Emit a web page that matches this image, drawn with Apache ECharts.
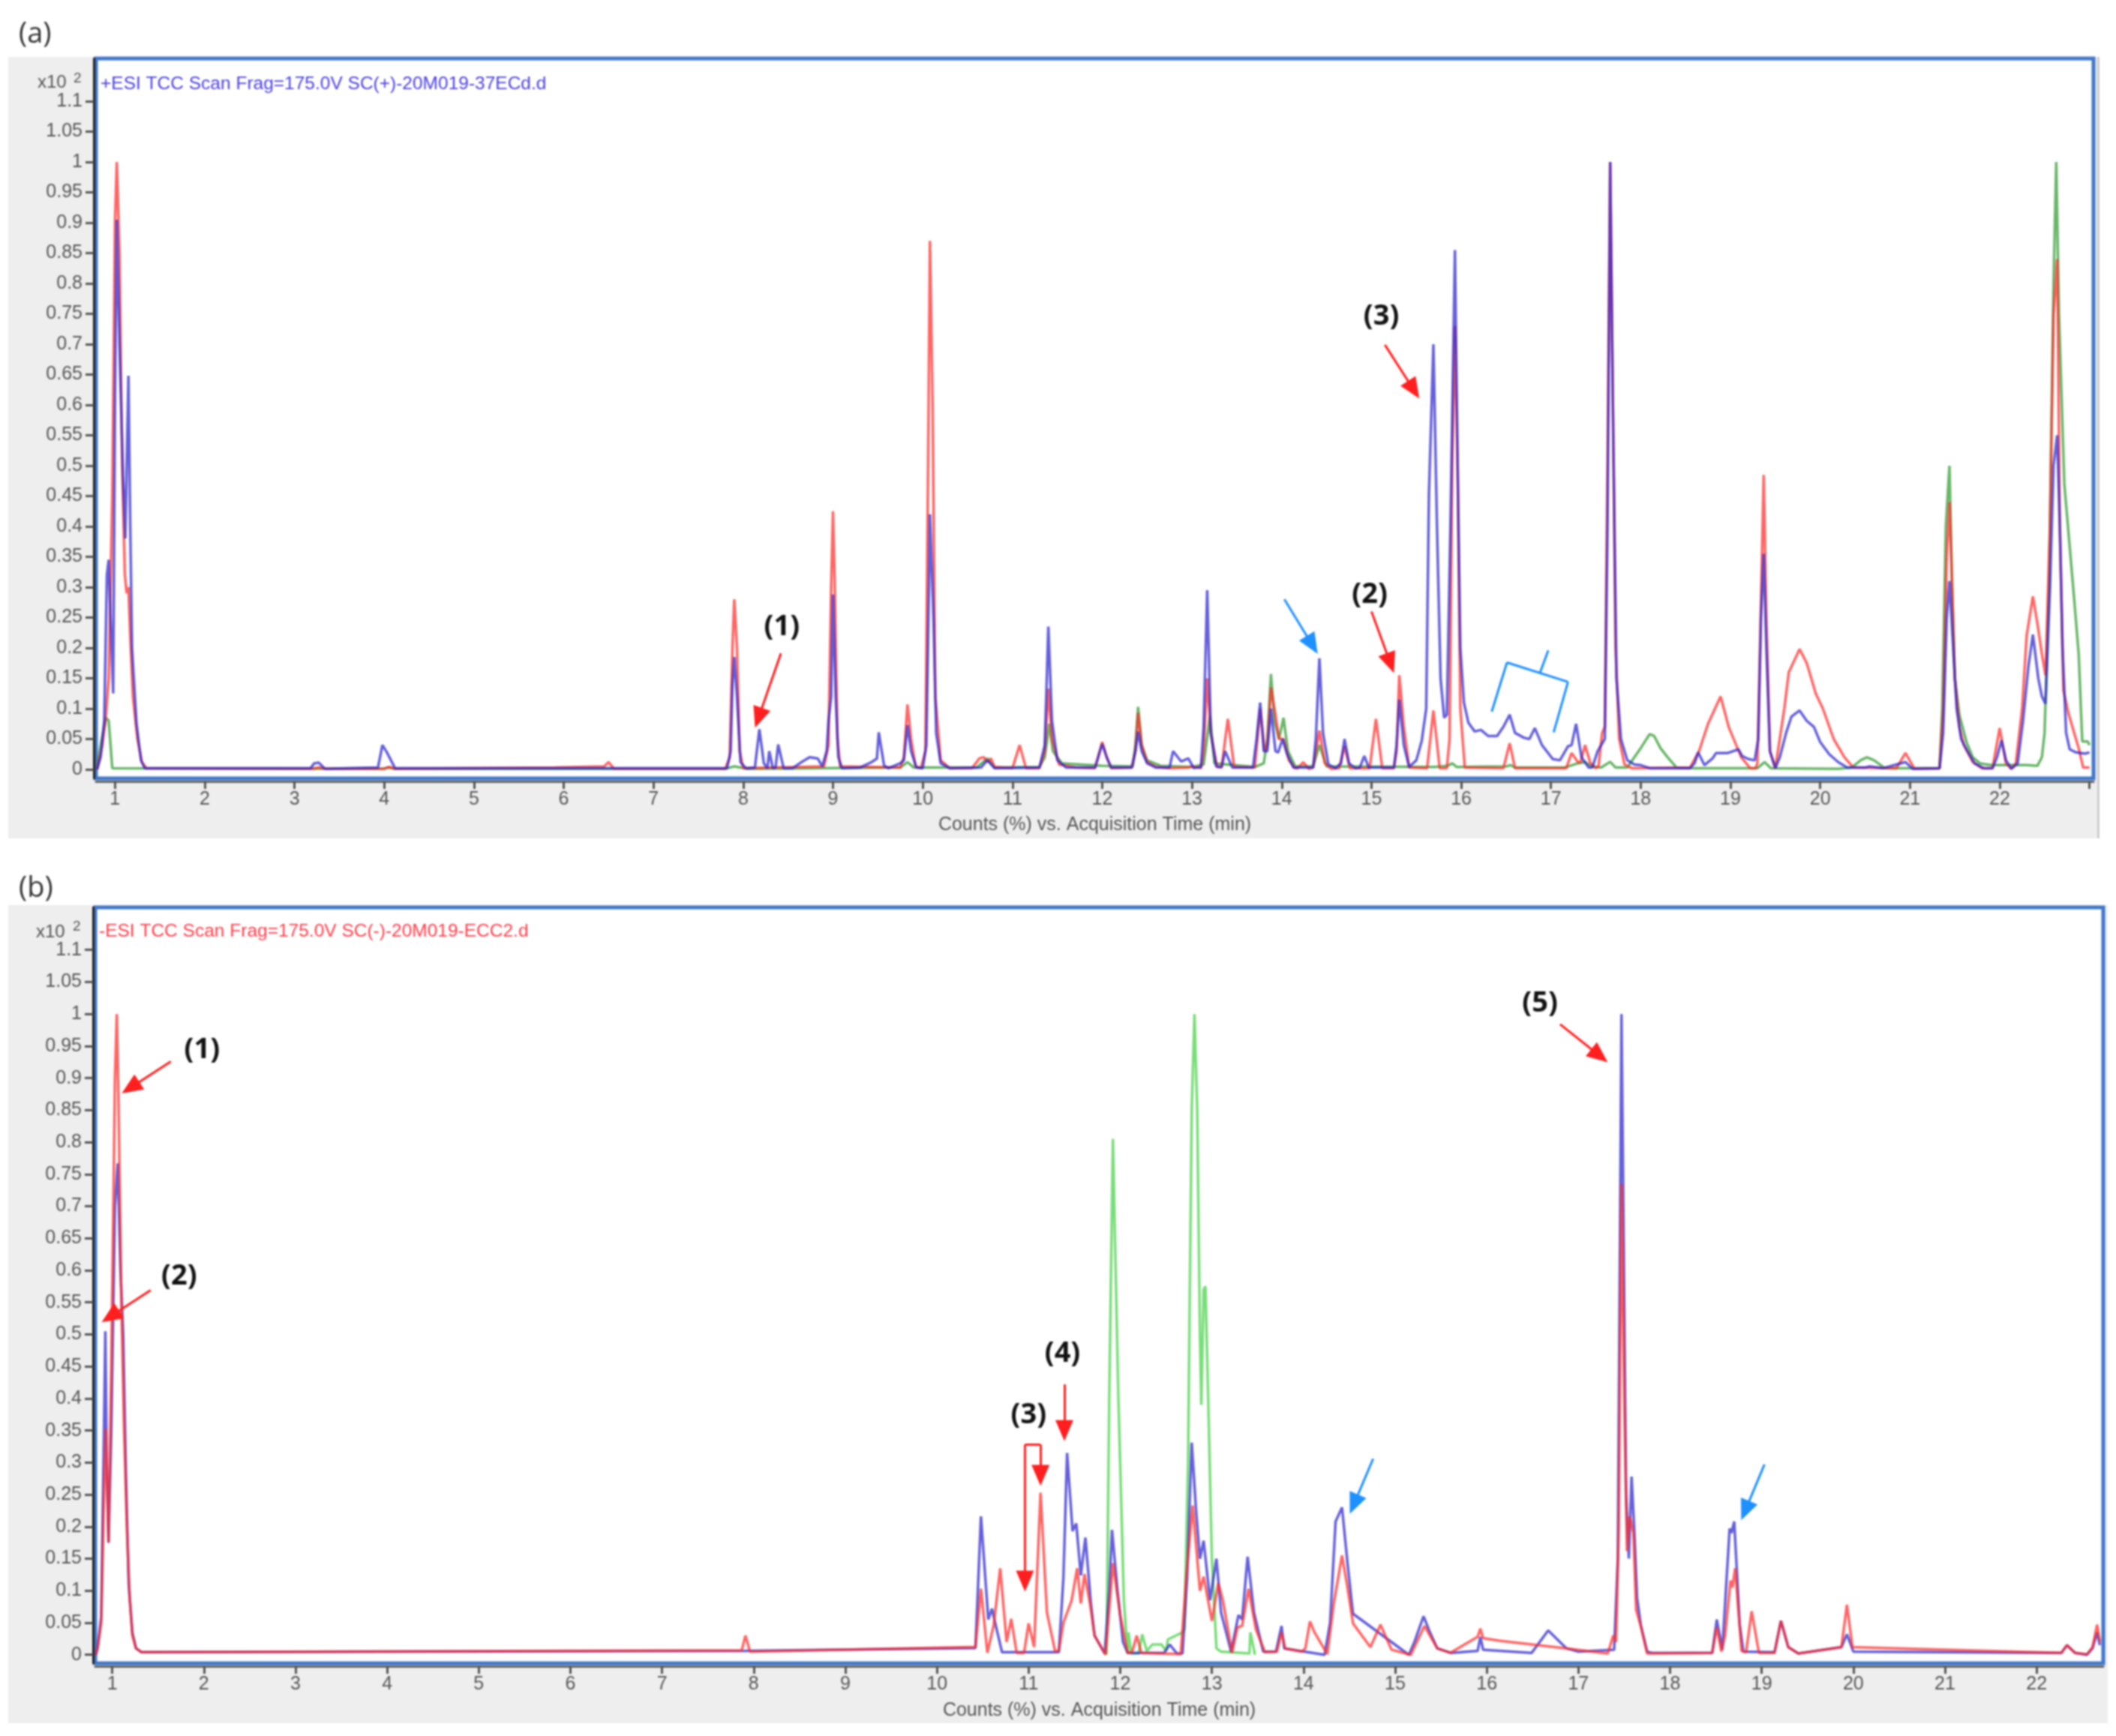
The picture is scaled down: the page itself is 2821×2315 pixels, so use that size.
<!DOCTYPE html>
<html>
<head>
<meta charset="utf-8">
<title>TCC</title>
<script src="https://cdn.jsdelivr.net/npm/echarts@6/dist/echarts.min.js"></script>
<style>
html,body{margin:0;padding:0;background:#fff;}
#chart{width:2821px;height:2315px;filter:blur(0.9px);}
</style>
</head>
<body>
<div id="chart"></div>
<script>
//tick values, both panels
var yTicks = [0,0.05,0.1,0.15,0.2,0.25,0.3,0.35,0.4,0.45,0.5,0.55,0.6,0.65,0.7,0.75,0.8,0.85,0.9,0.95,1,1.05,1.1];
var xLabels = [1,2,3,4,5,6,7,8,9,10,11,12,13,14,15,16,17,18,19,20,21,22];
var aTicks = [1,2,3,4,5,6,7,8,9,10,11,12,13,14,15,16,17,18,19,20,21,22,23];
var titleA = "+ESI TCC Scan Frag=175.0V SC(+)-20M019-37ECd.d";
var titleB = "-ESI TCC Scan Frag=175.0V SC(-)-20M019-ECC2.d";
var xName = "Counts (%) vs. Acquisition Time (min)";

//panel (a) traces, [time, counts]
var aRed = [[0.8,0],[0.86,0.04],[0.9,0.09],[0.93,0.15],[0.97,0.45],[1,0.9],[1.02,1],[1.05,0.85],[1.08,0.5],[1.11,0.32],[1.13,0.29],[1.15,0.3],[1.17,0.22],[1.2,0.12],[1.25,0.05],[1.3,0.012],[1.35,0.002],
[3.2,0.001],[3.27,0.003],[3.35,0.001],[4,0.001],[4.05,0.004],[4.12,0.001],[5.9,0.003],[6.45,0.005],[6.5,0.012],[6.56,0.001],[7.8,0.001],[7.85,0.02],[7.88,0.2],[7.9,0.28],[7.93,0.2],[7.96,0.03],[8,0.002],
[8.9,0.005],[8.95,0.04],[8.98,0.3],[9,0.425],[9.02,0.3],[9.05,0.05],[9.08,0.005],[9.75,0.003],[9.79,0.02],[9.83,0.107],[9.87,0.05],[9.92,0.005],[9.98,0.002],[10.03,0.03],[10.06,0.5],[10.08,0.87],[10.11,0.6],[10.14,0.12],[10.2,0.015],[10.3,0.002],
[10.55,0.002],[10.63,0.018],[10.68,0.02],[10.72,0.012],[10.76,0.018],[10.8,0.004],[11,0.002],[11.08,0.04],[11.15,0.002],[11.3,0.002],[11.36,0.03],[11.4,0.133],[11.44,0.05],[11.52,0.008],[11.7,0.003],[11.92,0.002],[12,0.045],[12.05,0.02],[12.1,0.002],
[12.33,0.003],[12.37,0.03],[12.4,0.093],[12.44,0.04],[12.5,0.012],[12.6,0.004],[12.75,0.002],[12.96,0.003],[13,0.005],[13.1,0.002],[13.13,0.03],[13.17,0.15],[13.21,0.06],[13.28,0.004],[13.33,0.003],[13.4,0.083],[13.47,0.004],
[13.7,0.003],[13.76,0.1],[13.81,0.03],[13.84,0.04],[13.88,0.135],[13.93,0.09],[13.97,0.05],[14.02,0.05],[14.08,0.015],[14.15,0.002],[14.18,0.002],[14.24,0.012],[14.3,0.001],[14.35,0.003],[14.42,0.064],[14.48,0.01],[14.55,0.001],
[14.64,0.002],[14.7,0.038],[14.76,0.002],[14.98,0.002],[15.05,0.083],[15.12,0.002],[15.25,0.002],[15.28,0.03],[15.31,0.155],[15.36,0.07],[15.42,0.003],[15.62,0.002],[15.69,0.097],[15.76,0.002],[15.84,0.002],[15.87,0.05],[15.9,0.5],[15.93,0.73],[15.96,0.5],[15.99,0.1],[16.04,0.003],
[16.47,0.002],[16.54,0.043],[16.6,0.002],[17.17,0.002],[17.23,0.027],[17.3,0.012],[17.33,0.012],[17.38,0.04],[17.44,0.01],[17.5,0.002],[17.53,0.005],[17.57,0.06],[17.6,0.07],[17.63,0.5],[17.66,1],[17.69,0.6],[17.72,0.2],[17.76,0.05],[17.82,0.008],[17.9,0.002],
[18.55,0.003],[18.65,0.03],[18.75,0.075],[18.89,0.12],[18.98,0.07],[19.05,0.045],[19.12,0.02],[19.22,0.002],[19.28,0.002],[19.3,0.01],[19.33,0.2],[19.37,0.485],[19.4,0.25],[19.44,0.03],[19.5,0.002],
[19.6,0.1],[19.65,0.16],[19.77,0.198],[19.85,0.175],[19.95,0.125],[20.03,0.1],[20.15,0.05],[20.27,0.02],[20.37,0.003],[20.85,0.002],[20.95,0.027],[21.05,0.001],[21.33,0.002],[21.37,0.1],[21.41,0.35],[21.44,0.44],[21.47,0.3],[21.5,0.15],[21.55,0.07],[21.6,0.04],[21.7,0.012],[21.8,0.002],
[21.92,0.002],[22,0.068],[22.07,0.01],[22.13,0.001],[22.18,0.01],[22.25,0.1],[22.3,0.22],[22.37,0.285],[22.42,0.24],[22.47,0.19],[22.51,0.155],[22.56,0.4],[22.6,0.75],[22.64,0.84],[22.67,0.4],[22.71,0.13],[22.77,0.09],[22.83,0.06],[22.88,0.035],[22.93,0.003],[23,0.003]];

var aBlue = [[0.8,0],[0.84,0.02],[0.88,0.08],[0.91,0.32],[0.93,0.345],[0.95,0.25],[0.98,0.125],[1,0.6],[1.02,0.905],[1.05,0.7],[1.09,0.48],[1.115,0.38],[1.15,0.648],[1.17,0.4],[1.19,0.2],[1.24,0.075],[1.29,0.015],[1.33,0.002],
[3.18,0.002],[3.22,0.01],[3.27,0.011],[3.34,0.001],[3.93,0.003],[3.98,0.04],[4.03,0.028],[4.12,0.002],[7.82,0.002],[7.86,0.03],[7.88,0.14],[7.9,0.185],[7.93,0.12],[7.97,0.012],[8.03,0.002],
[8.13,0.003],[8.18,0.066],[8.23,0.01],[8.27,0.002],[8.29,0.03],[8.33,0.002],[8.36,0.003],[8.39,0.041],[8.45,0.002],[8.55,0.002],[8.65,0.012],[8.74,0.02],[8.83,0.018],[8.88,0.005],[8.93,0.03],[8.95,0.08],[8.98,0.12],[9,0.288],[9.03,0.12],[9.06,0.02],[9.1,0.002],
[9.3,0.003],[9.43,0.012],[9.49,0.018],[9.51,0.061],[9.57,0.006],[9.62,0.002],[9.75,0.01],[9.79,0.015],[9.83,0.073],[9.87,0.03],[9.93,0.003],[10,0.002],[10.04,0.04],[10.07,0.3],[10.08,0.42],[10.12,0.25],[10.15,0.06],[10.2,0.01],[10.3,0.002],
[10.65,0.003],[10.72,0.015],[10.8,0.002],[11.3,0.003],[11.36,0.04],[11.4,0.235],[11.44,0.08],[11.5,0.015],[11.6,0.003],[11.92,0.003],[12,0.042],[12.05,0.02],[12.1,0.003],[12.33,0.003],[12.37,0.03],[12.4,0.062],[12.44,0.03],[12.5,0.01],[12.6,0.003],
[12.75,0.003],[12.79,0.03],[12.88,0.013],[12.96,0.018],[13.02,0.002],[13.1,0.004],[13.13,0.07],[13.17,0.295],[13.21,0.06],[13.27,0.005],[13.33,0.004],[13.37,0.03],[13.45,0.003],[13.68,0.003],[13.72,0.05],[13.76,0.11],[13.8,0.03],[13.84,0.03],[13.88,0.1],[13.93,0.03],[13.96,0.028],[14.01,0.05],[14.06,0.025],[14.13,0.003],
[14.35,0.003],[14.38,0.05],[14.42,0.183],[14.46,0.06],[14.52,0.008],[14.6,0.002],[14.66,0.01],[14.7,0.05],[14.75,0.01],[14.82,0.002],[14.87,0.003],[14.92,0.022],[14.97,0.003],[15.25,0.003],[15.28,0.04],[15.31,0.115],[15.36,0.04],[15.42,0.004],[15.5,0.015],[15.56,0.047],[15.61,0.1],[15.64,0.45],[15.69,0.7],[15.73,0.4],[15.77,0.15],[15.81,0.085],[15.84,0.09],[15.88,0.4],[15.93,0.855],[15.96,0.5],[15.99,0.2],[16.03,0.11],[16.08,0.077],
[16.15,0.0625],[16.22,0.065],[16.3,0.055],[16.4,0.055],[16.47,0.07],[16.54,0.09],[16.6,0.06],[16.7,0.052],[16.76,0.05],[16.82,0.068],[16.9,0.04],[17.02,0.017],[17.1,0.015],[17.19,0.038],[17.23,0.04],[17.28,0.075],[17.34,0.02],[17.42,0.003],[17.46,0.003],[17.52,0.03],[17.6,0.05],[17.63,0.4],[17.66,1],[17.69,0.6],[17.73,0.15],[17.78,0.05],[17.85,0.015],[17.93,0.008],[18,0.007],[18.1,0.002],
[18.55,0.002],[18.6,0.01],[18.64,0.028],[18.71,0.007],[18.8,0.018],[18.84,0.027],[18.97,0.027],[19.09,0.033],[19.13,0.022],[19.2,0.017],[19.27,0.015],[19.31,0.05],[19.34,0.25],[19.37,0.355],[19.4,0.2],[19.44,0.03],[19.5,0.002],[19.55,0.02],[19.62,0.06],[19.68,0.087],[19.77,0.097],[19.85,0.08],[19.93,0.07],[20,0.045],[20.1,0.025],[20.2,0.012],[20.3,0.003],[20.5,0.003],[20.55,0.005],[20.7,0.002],[20.85,0.008],[20.95,0.012],[21.03,0.001],
[21.33,0.002],[21.37,0.06],[21.41,0.25],[21.44,0.31],[21.47,0.23],[21.52,0.1],[21.57,0.05],[21.64,0.03],[21.72,0.01],[21.82,0.002],[21.92,0.002],[21.97,0.02],[22.02,0.048],[22.07,0.015],[22.13,0.001],[22.2,0.01],[22.26,0.08],[22.32,0.17],[22.37,0.222],[22.43,0.15],[22.47,0.12],[22.51,0.108],[22.56,0.3],[22.6,0.5],[22.64,0.55],[22.67,0.4],[22.7,0.2],[22.74,0.06],[22.78,0.033],[22.85,0.028],[22.95,0.026],[23,0.028]];

var aGreen = [[0.8,0],[0.84,0.04],[0.88,0.07],[0.9,0.085],[0.93,0.08],[0.97,0.002],[3.9,0.001],[3.98,0.001],[4.05,0.003],[4.12,0.001],[7.8,0.001],[7.85,0.003],[7.9,0.005],[7.97,0.003],[8.05,0.001],[9.75,0.003],[9.83,0.012],[9.9,0.003],[10.6,0.003],[10.72,0.018],[10.8,0.003],
[11.3,0.004],[11.36,0.02],[11.41,0.075],[11.45,0.03],[11.55,0.01],[12,0.006],[12.34,0.005],[12.37,0.04],[12.4,0.103],[12.44,0.04],[12.5,0.015],[12.65,0.006],[13,0.004],[13.13,0.008],[13.2,0.088],[13.25,0.01],[13.7,0.004],[13.8,0.01],[13.84,0.05],[13.88,0.157],[13.92,0.08],[13.97,0.05],[14.02,0.085],[14.07,0.03],[14.15,0.005],[14.35,0.005],[14.42,0.04],[14.5,0.005],
[15.7,0.004],[15.85,0.006],[15.9,0.01],[15.95,0.004],[16.5,0.005],[16.55,0.007],[16.6,0.003],[17.15,0.003],[17.3,0.01],[17.38,0.012],[17.45,0.005],[17.56,0.003],[17.66,0.0125],[17.72,0.003],[17.85,0.003],[17.93,0.02],[18,0.035],[18.1,0.058],[18.15,0.055],[18.22,0.035],[18.3,0.02],[18.4,0.003],[18.6,0.002],[19.3,0.002],[19.38,0.012],[19.45,0.002],[20.2,0.001],[20.35,0.003],[20.45,0.015],[20.52,0.02],[20.6,0.015],[20.72,0.002],
[21.33,0.002],[21.36,0.1],[21.4,0.4],[21.44,0.5],[21.47,0.3],[21.5,0.15],[21.55,0.09],[21.63,0.045],[21.7,0.02],[21.78,0.01],[21.9,0.007],[22.3,0.007],[22.42,0.006],[22.47,0.02],[22.5,0.06],[22.55,0.3],[22.6,0.8],[22.63,1],[22.66,0.75],[22.72,0.47],[22.83,0.28],[22.88,0.19],[22.92,0.046],[22.98,0.046],[23,0.04]];

//panel (b) traces
var bRed = [[0.82,0],[0.84,0.01],[0.88,0.05],[0.91,0.25],[0.93,0.353],[0.96,0.175],[0.99,0.45],[1.03,0.9],[1.05,1],[1.07,0.85],[1.1,0.55],[1.13,0.35],[1.16,0.2],[1.19,0.09],[1.22,0.03],[1.26,0.01],[1.32,0.004],[7.87,0.007],[7.91,0.03],[7.96,0.005],
[10.42,0.0123],[10.48,0.103],[10.55,0.003],[10.62,0.047],[10.69,0.135],[10.76,0.02],[10.81,0.056],[10.87,0.003],[10.95,0.003],[11,0.049],[11.06,0.012],[11.13,0.253],[11.2,0.066],[11.29,0.005],[11.33,0.007],[11.38,0.05],[11.47,0.085],[11.53,0.135],[11.57,0.08],[11.61,0.126],[11.67,0.08],[11.72,0.03],[11.84,0],
[11.92,0.143],[12,0.062],[12.08,0.003],[12.13,0.004],[12.18,0.03],[12.23,0.003],[12.66,0.001],[12.72,0.12],[12.79,0.233],[12.87,0.1],[12.91,0.122],[13,0.053],[13.07,0.112],[13.12,0.085],[13.22,0.003],[13.28,0.043],[13.33,0.045],[13.4,0.103],[13.48,0.04],[13.58,0.004],[13.71,0.005],[13.76,0.035],[13.8,0.01],[13.98,0.005],[14.02,0.01],[14.07,0.052],[14.12,0.035],[14.26,0.001],
[14.33,0.08],[14.42,0.155],[14.48,0.105],[14.54,0.049],[14.73,0.012],[14.84,0.047],[14.96,0.008],[15.17,0],[15.32,0.045],[15.46,0.01],[15.6,0.003],[15.9,0.028],[15.93,0.041],[15.96,0.026],[16.14,0.022],[16.87,0.01],[17.32,0.002],[17.38,0.03],[17.41,0.02],[17.44,0.2],[17.47,0.735],[17.5,0.4],[17.53,0.162],[17.56,0.216],[17.6,0.19],[17.63,0.07],[17.68,0.045],[17.75,0.002],
[18.46,0.003],[18.51,0.043],[18.56,0.005],[18.6,0.03],[18.66,0.116],[18.68,0.105],[18.71,0.135],[18.78,0.006],[18.83,0.004],[18.89,0.068],[18.97,0.003],[19.14,0.003],[19.21,0.053],[19.29,0.012],[19.4,0.002],[19.87,0.012],[19.93,0.078],[19.99,0.012],[22.27,0.003],[22.33,0.015],[22.42,0.003],[22.55,0.001],[22.61,0.012],[22.66,0.047],[22.69,0.02]];

var bBlue = [[0.82,0],[0.84,0.01],[0.88,0.06],[0.91,0.35],[0.925,0.505],[0.94,0.3],[0.96,0.175],[0.99,0.35],[1.03,0.7],[1.06,0.767],[1.09,0.6],[1.12,0.5],[1.15,0.28],[1.18,0.11],[1.22,0.035],[1.26,0.01],[1.32,0.004],[7.9,0.006],
[10.42,0.0104],[10.48,0.216],[10.56,0.055],[10.6,0.072],[10.64,0.047],[10.71,0.004],[11.33,0.004],[11.38,0.12],[11.42,0.315],[11.48,0.193],[11.52,0.205],[11.57,0.124],[11.62,0.183],[11.68,0.08],[11.72,0.03],[11.83,0.002],[11.88,0.1],[11.91,0.195],[11.97,0.1],[12.03,0.02],[12.08,0.003],[12.48,0.003],[12.54,0.016],[12.62,0.002],[12.68,0.002],[12.73,0.12],[12.78,0.331],[12.83,0.22],[12.87,0.15],[12.91,0.178],[12.98,0.085],[13.05,0.15],[13.1,0.066],[13.21,0.005],[13.29,0.062],[13.33,0.055],[13.39,0.153],[13.46,0.066],[13.56,0.005],[13.7,0.005],[13.76,0.045],[13.79,0.01],
[14.23,0],[14.29,0.05],[14.35,0.208],[14.42,0.23],[14.48,0.143],[14.54,0.064],[15.15,0],[15.21,0.02],[15.31,0.06],[15.38,0.035],[15.46,0.01],[15.61,0.003],[15.9,0.006],[15.93,0.028],[15.96,0.008],[16.49,0.003],[16.67,0.038],[16.87,0.01],[17,0.005],[17.39,0.008],[17.43,0.15],[17.47,1],[17.52,0.25],[17.55,0.15],[17.58,0.278],[17.61,0.193],[17.64,0.089],[17.68,0.047],[17.75,0.005],[17.8,0.003],
[18.46,0.003],[18.51,0.055],[18.57,0.008],[18.65,0.197],[18.67,0.19],[18.7,0.208],[18.76,0.047],[18.8,0.005],[19.14,0.004],[19.21,0.053],[19.29,0.012],[19.4,0.002],[19.87,0.012],[19.93,0.032],[20,0.005],[22.27,0.003],[22.33,0.015],[22.42,0.003],[22.55,0],[22.61,0.01],[22.66,0.035],[22.69,0.015]];

var bGreen = [[11.85,0],[11.88,0.4],[11.92,0.805],[11.95,0.6],[11.98,0.4],[12.04,0.085],[12.08,0.002],[12.09,0.035],[12.12,0.002],[12.2,0.002],[12.24,0.032],[12.29,0.006],[12.35,0.016],[12.45,0.016],[12.5,0.006],[12.52,0.024],[12.68,0.035],[12.7,0.04],[12.74,0.3],[12.78,0.85],[12.81,1],[12.84,0.85],[12.87,0.5],[12.885,0.39],[12.91,0.57],[12.93,0.575],[12.96,0.4],[13,0.15],[13.05,0.01],[13.1,0.005],[13.2,0.004],[13.41,0.002],[13.42,0.035],[13.47,0]];

//annotation arrows, [time1, counts1, time2, counts2]
var aRedArrows = [[8.42,0.191,8.17,0.085],[15,0.26,15.21,0.175],[15.15,0.699,15.47,0.625]];
var aBlueArrows = [[14.03,0.28,14.34,0.205]];
var aBlueBracket = [[16.34,0.095,16.51,0.176],[16.51,0.176,17.19,0.144],[17.19,0.144,17.03,0.061],[16.88,0.16,16.97,0.196]];
var aNotes = [["(1)",8.43,0.234],["(2)",14.98,0.288],["(3)",15.11,0.746]];
var bRedArrows = [[1.64,0.926,1.2,0.885],[1.42,0.569,0.98,0.528],[11.39,0.422,11.39,0.35],[10.96,0.328,10.96,0.115],[11.13,0.328,11.13,0.28],[16.8,0.984,17.23,0.935]];
var bRedBracket = [[10.96,0.328,11.13,0.328]];
var bBlueArrows = [[14.76,0.306,14.55,0.235],[19.03,0.297,18.82,0.225]];
var bNotes = [["(1)",1.98,0.944],["(2)",1.73,0.59],["(3)",11,0.374],["(4)",11.37,0.47],["(5)",16.58,1.016]];

var myChart = echarts.init(document.getElementById('chart'));
var fontName = "'Liberation Sans', Arial, sans-serif";

function trace(name,idx,data,color,width){
	return {
		name:name,
		type:'line',
		xAxisIndex:idx,
		yAxisIndex:idx,
		data:data,
		showSymbol:false,
		silent:true,
		lineStyle:{color:color,width:width,opacity:0.72}
	};
}

//arrows and brackets go on an empty series so they use the axis scales
function notes(idx,color,arrows,plain){
	var lines = [];
	var i;
	for(i=0;i<arrows.length;i++){
		lines.push([
			{coord:[arrows[i][0],arrows[i][1]],symbol:'none'},
			{coord:[arrows[i][2],arrows[i][3]],symbol:'triangle',symbolSize:[24,28]}
		]);
	}
	for(i=0;i<plain.length;i++){
		lines.push([
			{coord:[plain[i][0],plain[i][1]],symbol:'none'},
			{coord:[plain[i][2],plain[i][3]],symbol:'none'}
		]);
	}
	return {
		type:'line',
		xAxisIndex:idx,
		yAxisIndex:idx,
		data:[],
		silent:true,
		markLine:{
			silent:true,
			animation:false,
			precision:4,
			label:{show:false},
			lineStyle:{color:color,width:3,type:'solid'},
			data:lines
		}
	};
}

function labels(idx,list){
	var points = [];
	for(var i=0;i<list.length;i++){
		points.push({coord:[list[i][1],list[i][2]],value:list[i][0]});
	}
	return {
		type:'line',
		xAxisIndex:idx,
		yAxisIndex:idx,
		data:[],
		silent:true,
		markPoint:{
			silent:true,
			animation:false,
			symbol:'circle',
			symbolSize:1,
			itemStyle:{color:'transparent'},
			label:{show:true,position:'inside',formatter:'{c}',color:'#111',fontFamily:"'Open Sans', sans-serif",fontWeight:'bold',fontSize:38},
			data:points
		}
	};
}

function xAxisOf(idx,min,max,ticks,margin,gap){
	return {
		type:'value',
		gridIndex:idx,
		min:min,
		max:max,
		offset:4,
		name:xName,
		nameLocation:'middle',
		nameGap:gap,
		nameTextStyle:{color:'#555',fontSize:25,fontFamily:fontName},
		axisLine:{show:true,onZero:false,lineStyle:{color:'#666',width:3}},
		axisTick:{show:true,length:10,customValues:ticks,lineStyle:{color:'#555',width:3}},
		axisLabel:{color:'#555',fontSize:25,fontFamily:fontName,margin:margin,customValues:xLabels},
		splitLine:{show:false}
	};
}

function yAxisOf(idx,min,max){
	return {
		type:'value',
		gridIndex:idx,
		min:min,
		max:max,
		offset:3,
		axisLine:{show:true,onZero:false,lineStyle:{color:'#222',width:3}},
		axisTick:{show:true,length:11,customValues:yTicks,lineStyle:{color:'#555',width:3}},
		axisLabel:{color:'#555',fontSize:25,fontFamily:fontName,margin:15,customValues:yTicks},
		splitLine:{show:false}
	};
}

var option = {
	animation:false,
	backgroundColor:'#fff',
	title:[
		{text:titleA,left:129,top:95,textStyle:{color:'#4a3ee0',fontSize:24.5,fontWeight:'normal',fontFamily:fontName}},
		{text:titleB,left:127,top:1225,textStyle:{color:'#ff3b47',fontSize:24.5,fontWeight:'normal',fontFamily:fontName}}
	],
	grid:[
		{left:128,top:78,width:2663,height:960,show:true,backgroundColor:'#fff',borderColor:'#3f76c9',borderWidth:5},
		{left:127,top:1210,width:2677,height:1008,show:true,backgroundColor:'#fff',borderColor:'#3f76c9',borderWidth:5}
	],
	xAxis:[
		xAxisOf(0,0.7886,23.045,aTicks,12,46),
		xAxisOf(1,0.815,22.727,xLabels,12,47)
	],
	yAxis:[
		yAxisOf(0,-0.0148,1.1704),
		yAxisOf(1,-0.0132,1.1664)
	],
	graphic:{elements:[
		{type:'rect',z:-10,shape:{x:11,y:76,width:2787,height:1042},style:{fill:'#eeeeee'}},
		{type:'rect',z:-10,shape:{x:2796,y:76,width:3,height:1042},style:{fill:'#cccccc'}},
		{type:'rect',z:-10,shape:{x:11,y:1207,width:2799,height:1091},style:{fill:'#eeeeee'}},
		{type:'text',x:25,y:46,style:{text:'(a)',fill:'#333',font:"38px 'Open Sans', sans-serif",verticalAlign:'middle'}},
		{type:'text',x:25,y:1185,style:{text:'(b)',fill:'#333',font:"38px 'Open Sans', sans-serif",verticalAlign:'middle'}},
		{type:'text',x:50,y:110,style:{text:'x10',fill:'#555',font:"24px 'Liberation Sans', Arial, sans-serif",verticalAlign:'middle'}},
		{type:'text',x:98,y:105,style:{text:'2',fill:'#555',font:"19px 'Liberation Sans', Arial, sans-serif",verticalAlign:'middle'}},
		{type:'text',x:48,y:1243,style:{text:'x10',fill:'#555',font:"24px 'Liberation Sans', Arial, sans-serif",verticalAlign:'middle'}},
		{type:'text',x:97,y:1236,style:{text:'2',fill:'#555',font:"19px 'Liberation Sans', Arial, sans-serif",verticalAlign:'middle'}}
	]},
	series:[
		trace('a green',0,aGreen,'#2f9a2f',3.5),
		trace('a red',0,aRed,'#ff2a2a',3.5),
		trace('a blue',0,aBlue,'#2a22cc',3.5),
		trace('b green',1,bGreen,'#45d045',3.5),
		trace('b blue',1,bBlue,'#2a22cc',3.5),
		trace('b red',1,bRed,'#ff2a2a',3.5),
		notes(0,'#ff1f1f',aRedArrows,[]),
		notes(0,'#1e90ff',aBlueArrows,aBlueBracket),
		labels(0,aNotes),
		notes(1,'#ff1f1f',bRedArrows,bRedBracket),
		notes(1,'#1e90ff',bBlueArrows,[]),
		labels(1,bNotes)
	]
};
myChart.setOption(option);
</script>
</body>
</html>
